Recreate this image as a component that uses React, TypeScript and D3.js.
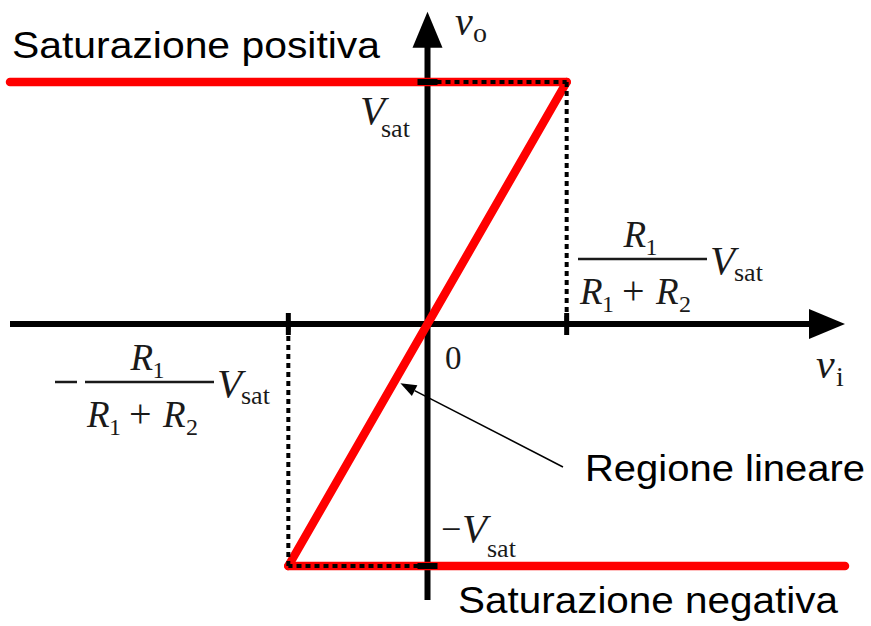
import React from 'react';
import * as d3 from 'd3';

const width = 871;
const height = 626;

// transfer characteristic (vi in units of the threshold, vo in units of Vsat)
const satPosVi = [-3, 1];
const satNegVi = [-1, 3];
const linearVi = [-1, 1];
const linearVo = [-1, 1];
const vsatLevels = [1, -1];
const thresholdVi = [-1, 1];
const axisX = [-3, 3];
const axisY = [-1.14, 1.29];

const sans = "'Liberation Sans', Arial, sans-serif";
const serif = "'Liberation Serif', 'Times New Roman', serif";

const x = d3.scaleLinear().domain([-3, 3]).range([10, 845]);
const y = d3.scaleLinear().domain([-1, 1]).range([566, 82]);

const line = d3.line<[number, number]>()
  .x(d => x(d[0]))
  .y(d => y(d[1]));

function Frac({ cx, cy, minus }: { cx: number; cy: number; minus?: boolean }) {
  // R1 / (R1 + R2) Vsat, cx = left of the bar, cy = bar y
  const w = 129;
  const m = cx + w / 2;
  return (
    <g fontFamily={serif} fill="#1a1a1a">
      {minus && <line x1={cx - 30} x2={cx - 8} y1={cy} y2={cy} stroke="#1a1a1a" strokeWidth={2.5} />}
      <line x1={cx} x2={cx + w} y1={cy} y2={cy} stroke="#1a1a1a" strokeWidth={2.5} />
      <text x={m - 19} y={cy - 12} fontSize={37} fontStyle="italic">R</text>
      <text x={m + 3} y={cy - 4} fontSize={24}>1</text>
      <text x={cx + 2} y={cy + 45} fontSize={37} fontStyle="italic">R</text>
      <text x={cx + 24} y={cy + 53} fontSize={24}>1</text>
      <text x={cx + 44} y={cy + 45} fontSize={40}>+</text>
      <text x={cx + 78} y={cy + 45} fontSize={37} fontStyle="italic">R</text>
      <text x={cx + 101} y={cy + 53} fontSize={24}>2</text>
      <text x={cx + w + 3} y={cy + 15} fontSize={41} fontStyle="italic">V</text>
      <text x={cx + w + 27} y={cy + 22} fontSize={26}>sat</text>
    </g>
  );
}

export default function App() {
  const x0 = x(0);
  const y0 = y(0);
  const yTop = y(axisY[1]);
  const yBot = y(axisY[0]);
  const xLeft = x(axisX[0]);
  const xRight = x(axisX[1]);
  const head = 36;
  const half = 15;

  const dash = "5 4";

  // annotation arrow pointing at the linear region
  const tipVo = -0.245;
  const tip: [number, number] = [x(tipVo) + 7, y(tipVo)];
  const tail: [number, number] = [563, 467];
  const ang = Math.atan2(tail[1] - tip[1], tail[0] - tip[0]);
  const hl = 16, hw = 6;
  const hx = tip[0] + hl * Math.cos(ang), hy = tip[1] + hl * Math.sin(ang);
  const arrowHead = [
    [tip[0], tip[1]],
    [hx - hw * Math.sin(ang), hy + hw * Math.cos(ang)],
    [hx + hw * Math.sin(ang), hy - hw * Math.cos(ang)],
  ].map(p => p.join(',')).join(' ');

  return (
    <svg width={width} height={height} style={{ position: 'absolute', left: 0, top: 0, background: '#fff' }}>
      {/* axes */}
      <line x1={x0} x2={x0} y1={yBot} y2={yTop + head - 2} stroke="#000" strokeWidth={6} />
      <polygon points={`${x0},${yTop} ${x0 - half},${yTop + head} ${x0 + half},${yTop + head}`} fill="#000" />
      <line x1={xLeft} x2={xRight - head + 2} y1={y0} y2={y0} stroke="#000" strokeWidth={6} />
      <polygon points={`${xRight},${y0} ${xRight - head},${y0 - half} ${xRight - head},${y0 + half}`} fill="#000" />

      {/* transfer characteristic */}
      <g stroke="#f00" strokeWidth={8.5} fill="none" strokeLinecap="round" strokeLinejoin="round">
        <path d={line(satPosVi.map(v => [v, vsatLevels[0]]) as [number, number][]) || ''} />
        <path d={line(linearVi.map((v, i) => [v, linearVo[i]]) as [number, number][]) || ''} />
        <path d={line(satNegVi.map(v => [v, vsatLevels[1]]) as [number, number][]) || ''} />
      </g>

      {/* dotted guides */}
      <g stroke="#000" strokeWidth={4} strokeDasharray={dash} fill="none">
        {thresholdVi.map((t, i) => {
          const lv = y(vsatLevels[t > 0 ? 0 : 1]);
          return (
            <g key={i}>
              <line x1={x(t)} x2={x(t)} y1={lv} y2={y0} />
              <line x1={x0} x2={x(t)} y1={lv} y2={lv} />
            </g>
          );
        })}
      </g>

      {/* ticks */}
      {thresholdVi.map((t, i) => (
        <line key={'tx' + i} x1={x(t)} x2={x(t)} y1={y0 - 11} y2={y0 + 11} stroke="#000" strokeWidth={5} />
      ))}
      {vsatLevels.map((v, i) => (
        <line key={'ty' + i} x1={x0 - 10} x2={x0 + 10} y1={y(v)} y2={y(v)} stroke="#000" strokeWidth={6} />
      ))}

      {/* annotation */}
      <line x1={tail[0]} y1={tail[1]} x2={hx} y2={hy} stroke="#000" strokeWidth={1.5} />
      <polygon points={arrowHead} fill="#000" />

      {/* labels */}
      <g fontFamily={sans} fontSize={36} fill="#000">
        <text x={12} y={58} textLength={368} lengthAdjust="spacingAndGlyphs">Saturazione positiva</text>
        <text x={585} y={481} textLength={280} lengthAdjust="spacingAndGlyphs">Regione lineare</text>
        <text x={458} y={613} textLength={380} lengthAdjust="spacingAndGlyphs">Saturazione negativa</text>
      </g>
      <g fontFamily={serif} fill="#1a1a1a">
        <text x={455} y={35} fontSize={40} fontStyle="italic">v</text>
        <text x={473} y={42} fontSize={28}>o</text>
        <text x={816} y={378} fontSize={42} fontStyle="italic">v</text>
        <text x={836} y={386} fontSize={28}>i</text>
        <text x={445} y={369} fontSize={33}>0</text>
        <text x={360} y={124} fontSize={41} fontStyle="italic">V</text>
        <text x={381} y={137} fontSize={26}>sat</text>
        <text x={441} y={541} fontSize={36}>−</text>
        <text x={462} y={542} fontSize={41} fontStyle="italic">V</text>
        <text x={487} y={557} fontSize={26}>sat</text>
      </g>
      <Frac cx={578} cy={259} />
      <Frac cx={85} cy={382} minus />
    </svg>
  );
}
